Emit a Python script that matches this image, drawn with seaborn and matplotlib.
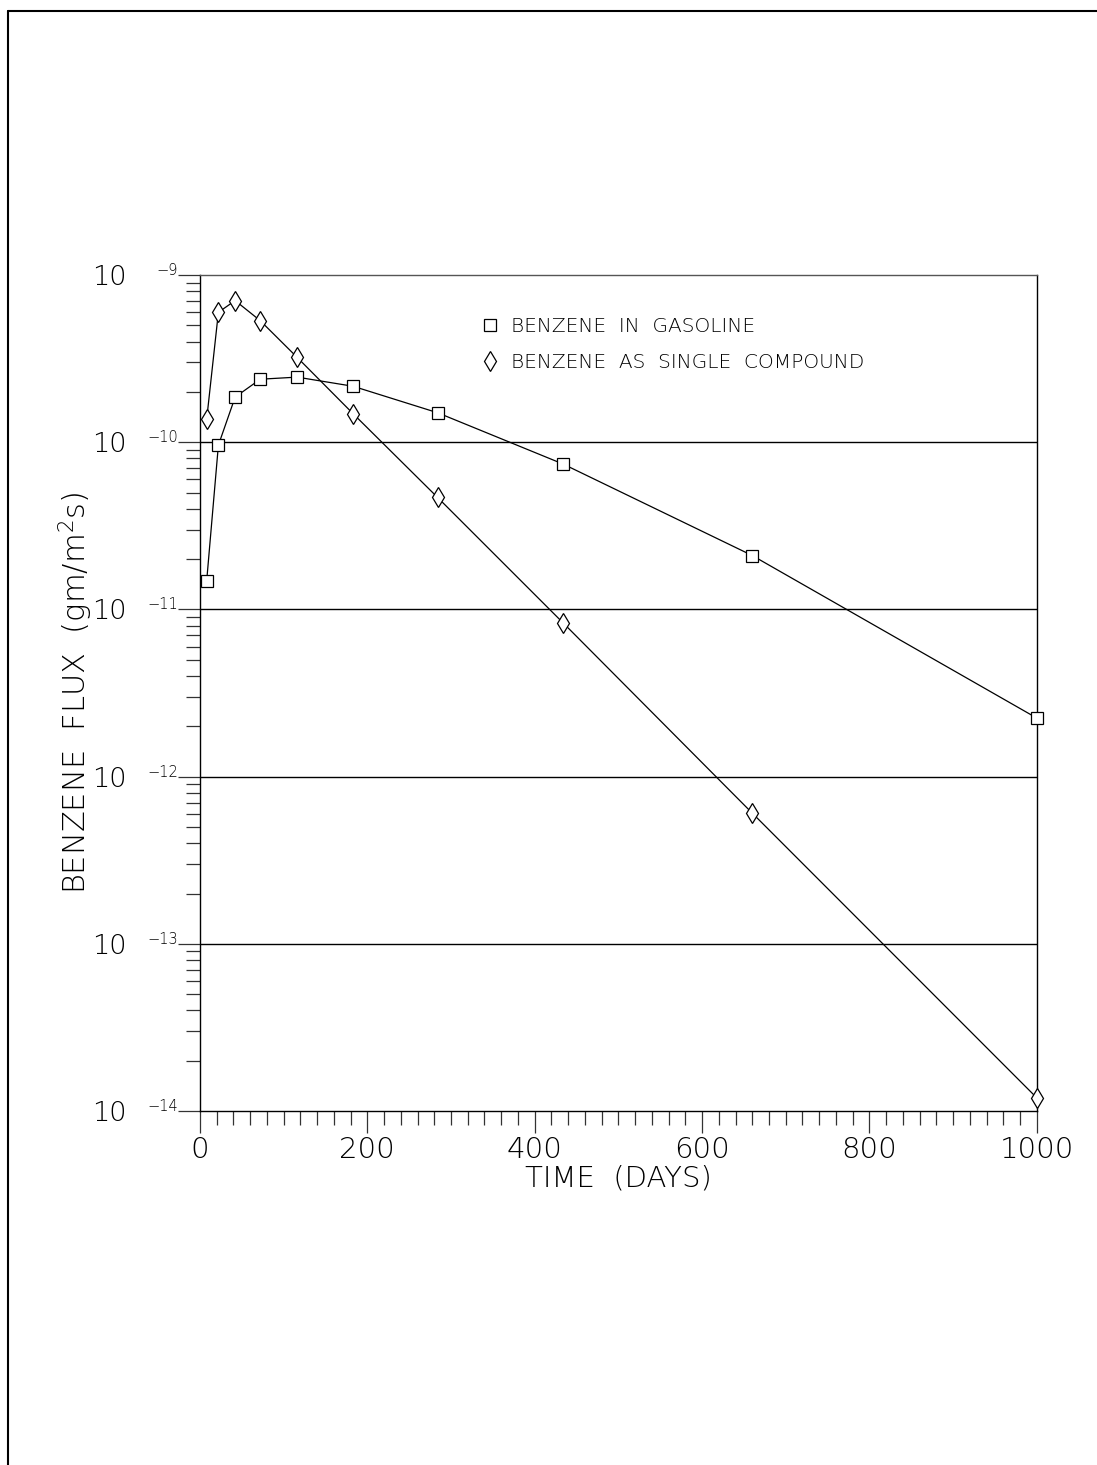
import numpy as np
import pandas as pd
import matplotlib
matplotlib.use("Agg")
import matplotlib.pyplot as plt
import matplotlib.transforms as mtransforms
from matplotlib.lines import Line2D
from matplotlib.ticker import FixedLocator, LogLocator, NullFormatter, MultipleLocator
import seaborn as sns

# values
time_days = [8, 22, 42, 72, 116, 183, 284, 434, 660, 1000]
flux_gasoline = [1.48e-11, 9.6e-11, 1.86e-10, 2.38e-10, 2.45e-10,
                 2.16e-10, 1.50e-10, 7.4e-11, 2.1e-11, 2.24e-12]
flux_single = [1.37e-10, 5.98e-10, 7.03e-10, 5.33e-10, 3.22e-10,
               1.48e-10, 4.67e-11, 8.3e-12, 6.05e-13, 1.2e-14]
labels = ["BENZENE  IN  GASOLINE", "BENZENE  AS  SINGLE  COMPOUND"]
decades = [-14, -13, -12, -11, -10, -9]
x_ticks = [0, 200, 400, 600, 800, 1000]

sns.set_theme(style="white")
plt.rcParams['font.family'] = ['DejaVu Sans']
plt.rcParams['font.weight'] = 'light'
plt.rcParams['axes.labelweight'] = 'light'
plt.rcParams['text.color'] = 'black'
plt.rcParams['axes.labelcolor'] = 'black'
plt.rcParams['xtick.color'] = 'black'
plt.rcParams['ytick.color'] = 'black'
plt.rcParams['mathtext.fontset'] = 'custom'
plt.rcParams['mathtext.rm'] = 'DejaVu Sans:light'
plt.rcParams['mathtext.it'] = 'DejaVu Sans:light'
plt.rcParams['mathtext.default'] = 'rm'

fig = plt.figure(figsize=(10.97, 14.65), dpi=100)
ax = fig.add_axes([0.1823, 0.2416, 0.7628, 0.5707])

df_gas = pd.DataFrame({"t": time_days, "flux": flux_gasoline})
df_single = pd.DataFrame({"t": time_days, "flux": flux_single})

sns.lineplot(data=df_gas, x="t", y="flux", ax=ax, color="black", lw=0.9,
             marker="s", markersize=8.6, markerfacecolor="white",
             markeredgecolor="black", markeredgewidth=0.9, zorder=3,
             clip_on=False)
sns.lineplot(data=df_single, x="t", y="flux", ax=ax, color="black", lw=0.9,
             marker="d", markersize=10.2, markerfacecolor="white",
             markeredgecolor="black", markeredgewidth=0.9, zorder=3,
             clip_on=False)

ax.set_yscale("log")
ax.set_xlim(0, 1000)
ax.set_ylim(1e-14, 1e-9)

# decade gridlines only
for d in decades[1:-1]:
    ax.axhline(10.0 ** d, color="black", lw=1.0, zorder=1)

# "10" as tick label, small raised exponent next to it
ax.yaxis.set_major_locator(FixedLocator([10.0 ** d for d in decades]))
ax.set_yticklabels(["10"] * len(decades), fontsize=19.5)
ax.yaxis.set_minor_locator(LogLocator(base=10, subs=np.arange(2, 10)))
ax.yaxis.set_minor_formatter(NullFormatter())
trans = mtransforms.blended_transform_factory(ax.transAxes, ax.transData)
for d in decades:
    ax.text(-0.0263, 10.0 ** d, "\u2212%d" % abs(d), transform=trans,
            ha="right", va="baseline", fontsize=10.5)

ax.set_xticks(x_ticks)
ax.set_xticklabels([str(v) for v in x_ticks], fontsize=21)
ax.xaxis.set_minor_locator(MultipleLocator(20))

ax.tick_params(axis="both", which="major", direction="out", length=16,
               width=0.9, color="#333333", pad=2, bottom=True, left=True)
ax.tick_params(axis="y", which="major", pad=37)
ax.tick_params(axis="both", which="minor", direction="out", length=10,
               width=0.9, color="#333333", bottom=True, left=True)

for s in ax.spines.values():
    s.set_color("black")
    s.set_linewidth(1.0)
ax.spines["top"].set_color("#555555")

ax.set_xlabel("TIME  (DAYS)", fontsize=21, labelpad=0)
ax.set_ylabel(r"BENZENE  FLUX  (gm/m$^2$s)", fontsize=22)
ax.yaxis.set_label_coords(-0.126, 0.5)

handles = [
    Line2D([], [], ls="none", marker="s", markersize=8.6, mfc="white",
           mec="black", mew=0.9),
    Line2D([], [], ls="none", marker="d", markersize=10.2, mfc="white",
           mec="black", mew=0.9),
]
ax.legend(handles, labels, loc="upper left", bbox_to_anchor=(0.322, 0.962),
          frameon=False, fontsize=14.5, handlelength=1.0, handletextpad=0.55,
          labelspacing=0.85, borderpad=0)

# page frame (top and left edges)
fig.add_artist(Line2D([8 / 1097, 1.0], [1 - 11 / 1465, 1 - 11 / 1465],
                      transform=fig.transFigure, color="black", lw=1.5))
fig.add_artist(Line2D([8 / 1097, 8 / 1097], [0.0, 1 - 11 / 1465],
                      transform=fig.transFigure, color="black", lw=1.5))

fig.savefig("out.png", dpi=100)
